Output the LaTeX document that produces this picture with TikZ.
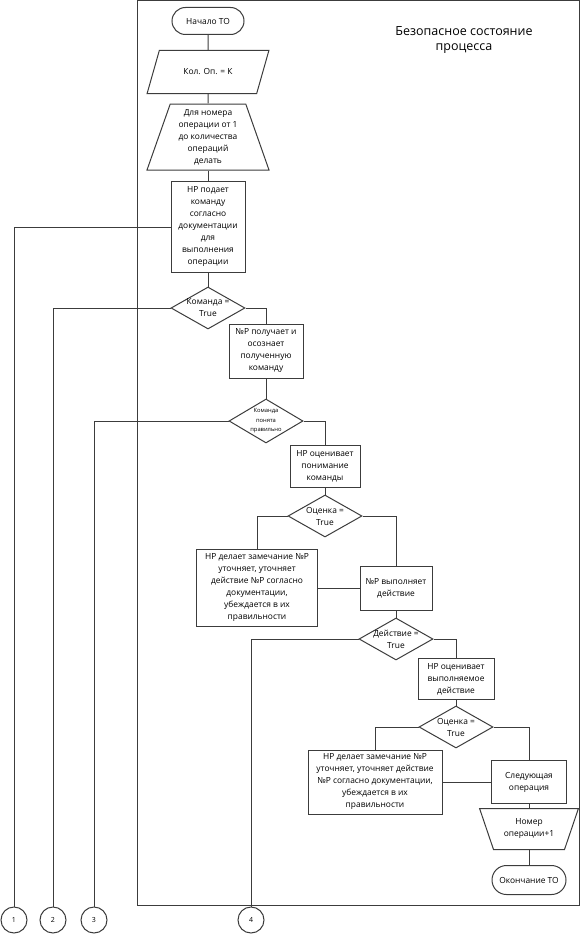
\documentclass[tikz,border=0pt]{standalone}
\usepackage{fontspec}
\setmainfont{Open Sans}
\usetikzlibrary{shapes.geometric, shapes.misc}
\definecolor{edge}{HTML}{3C3C3C}
\tikzset{
  txt/.style={font=\fontsize{8.4}{12}\selectfont, align=center},
  blk/.style={txt, draw=edge, line width=1pt, inner sep=1pt},
  term/.style={blk, rounded rectangle, minimum height=27},
  proc/.style={blk, rectangle},
  io/.style={blk, trapezium, trapezium left angle=52, trapezium right angle=128,
             trapezium stretches=true, minimum width=122, minimum height=43},
  lim/.style={blk, trapezium, trapezium stretches=true},
  cond/.style={draw=edge, line width=1pt, diamond, minimum width=74, minimum height=42, inner sep=0pt},
  ctxt/.style={txt, inner sep=0pt},
  link/.style={draw=edge, line width=1pt},
  conn/.style={circle, draw=edge, line width=1pt, minimum size=26, inner sep=0pt,
               font=\fontsize{7}{8}\selectfont},
}

\begin{document}
\begin{tikzpicture}[x=1pt, y=-1pt]
\useasboundingbox (0,0) rectangle (582,934);

% frame of the process
\draw[link] (137,1) rectangle (579,905);
\node[font=\fontsize{12.5}{15}\selectfont, align=center] (title) at (464,40) {Безопасное состояние\\процесса};

% ---------------- main column ----------------
\node[term, minimum width=74] (start) at (208,21) {Начало ТО};
\node[io] (count) at (208,72) {Кол. Оп. = К};
\node[lim, trapezium left angle=72, trapezium right angle=72, minimum width=123, minimum height=66] (loop) at (208,137)
  {Для номера\\операции от 1\\до количества\\операций\\делать};
\node[proc, minimum width=74, minimum height=91] (cmd) at (208,227)
  {НР подает\\команду\\согласно\\документации\\для\\выполнения\\операции};
\node[cond, label={[ctxt]center:{Команда =\\True}}] (chkcmd) at (208,308) {};

\node[proc, minimum width=74, minimum height=54] (recv) at (266,351)
  {№Р получает и\\осознает\\полученную\\команду};
\node[cond, minimum height=44, label={[ctxt, font=\fontsize{5.8}{9.5}\selectfont]center:{Команда\\понята\\правильно}}] (chkund) at (266,421) {};

\node[proc, minimum width=70, minimum height=42] (evalund) at (325,466)
  {НР оценивает\\понимание\\команды};
\node[cond, label={[ctxt]center:{Оценка =\\True}}] (chkeval) at (325,516) {};
\node[proc, minimum width=121, minimum height=77] (fixund) at (257,588)
  {НР делает замечание №Р\\уточняет, уточняет\\действие №Р согласно\\документации,\\убеждается в их\\правильности};
\node[proc, minimum width=72, minimum height=44] (act) at (396,588) {№Р выполняет\\действие};

\node[cond, label={[ctxt]center:{Действие =\\True}}] (chkact) at (396,639) {};
\node[proc, minimum width=76, minimum height=41] (evalact) at (456,679)
  {НР оценивает\\выполняемое\\действие};
\node[cond, label={[ctxt]center:{Оценка =\\True}}] (chkeval2) at (456,727) {};
\node[proc, minimum width=134, minimum height=64] (fixact) at (375,782)
  {НР делает замечание №Р\\уточняет, уточняет действие\\№Р согласно документации,\\убеждается в их\\правильности};
\node[proc, minimum width=75, minimum height=43] (next) at (529,782) {Следующая\\операция};
\node[lim, trapezium left angle=115, trapezium right angle=115, minimum width=99, minimum height=41] (incr) at (529,829)
  {Номер\\операции+1};
\node[term, minimum width=76, minimum height=29] (finish) at (529,880) {Окончание ТО};

% off-page connectors
\node[conn] (c1) at (14,920) {1};
\node[conn] (c2) at (53,920) {2};
\node[conn] (c3) at (94,920) {3};
\node[conn] (c4) at (251,920) {4};

% ---------------- connectors ----------------
\draw[link] (start) -- (count);
\draw[link] (count) -- (loop);
\draw[link] (loop) -- (cmd);
\draw[link] (cmd) -- (chkcmd);
\draw[link] (chkcmd.east) -| (recv.north);
\draw[link] (recv) -- (chkund);
\draw[link] (chkund.east) -| (evalund.north);
\draw[link] (evalund) -- (chkeval);
\draw[link] (chkeval.west) -| (fixund.north);
\draw[link] (chkeval.east) -| (act.north);
\draw[link] (fixund) -- (act);
\draw[link] (act) -- (chkact);
\draw[link] (chkact.east) -| (evalact.north);
\draw[link] (evalact) -- (chkeval2);
\draw[link] (chkeval2.west) -| (fixact.north);
\draw[link] (chkeval2.east) -| (next.north);
\draw[link] (fixact) -- (next);
\draw[link] (next) -- (incr);
\draw[link] (incr) -- (finish);

% the refusals leave the frame
\draw[link] (cmd.west) -| (c1.north);
\draw[link] (chkcmd.west) -| (c2.north);
\draw[link] (chkund.west) -| (c3.north);
\draw[link] (chkact.west) -| (c4.north);
\end{tikzpicture}
\end{document}
